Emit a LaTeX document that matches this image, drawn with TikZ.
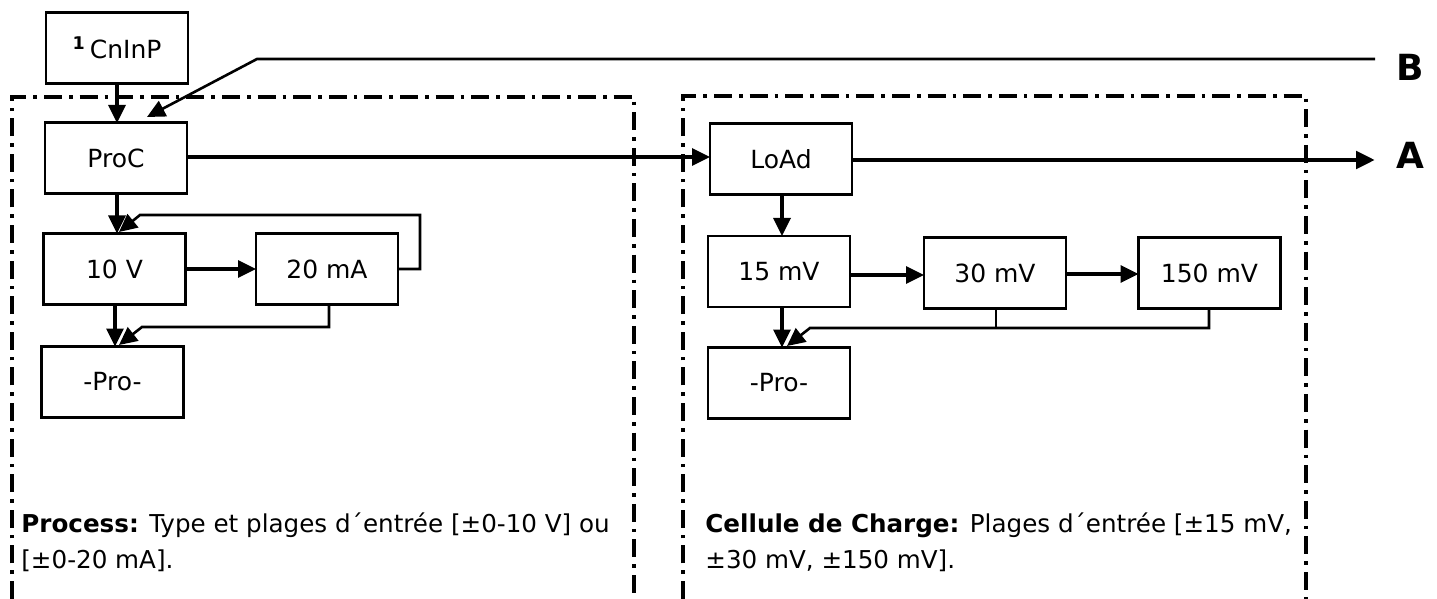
\documentclass[tikz,border=0pt]{standalone}
\usepackage{fontspec}
\setmainfont{DejaVu Sans}
\usetikzlibrary{arrows.meta,calc}
\begin{document}
\begin{tikzpicture}[x=0.5pt,y=-0.5pt,
  box/.style={draw,line width=1.3pt,minimum width=71pt,minimum height=35.5pt,inner sep=0pt,outer sep=0pt,font=\fontsize{12.5}{14}\selectfont},
  arr/.style={line width=1.7pt,-{Triangle[length=9pt,width=8.5pt]}},
  fb/.style={line width=1.3pt,-{Triangle[length=9pt,width=8.5pt]}},
  line/.style={line width=1.3pt},
  frame/.style={line width=2pt,dash pattern=on 9pt off 3.5pt on 1.8pt off 3.5pt},
  lbl/.style={font=\fontsize{18}{20}\selectfont\bfseries,inner sep=0pt},
  txt/.style={font=\fontsize{12.3}{18.3}\selectfont,align=left,inner sep=0pt,anchor=north west}]
\useasboundingbox (0,0) rectangle (1437,599);
% frames
\draw[frame] (12,599) -- (12,97) -- (634,97) -- (634,599);
\draw[frame] (683,599) -- (683,96) -- (1306,96) -- (1306,599);
% nodes
\node[box] (cninp) at (117,48) {\textsuperscript{\bfseries 1}\,CnInP};
\node[box] (proc) at (116,158) {ProC};
\node[box] (v10) at (114.5,269) {10 V};
\node[box] (ma20) at (327,269) {20 mA};
\node[box] (proL) at (112.5,382) {-Pro-};
\node[box] (load) at (781,159) {LoAd};
\node[box] (mv15) at (779,271.5) {15 mV};
\node[box] (mv30) at (995,273) {30 mV};
\node[box] (mv150) at (1209.5,273) {150 mV};
\node[box] (proR) at (779,383) {-Pro-};
\node[lbl] (A) at (1410,155) {A};
\node[lbl] (B) at (1410,67) {B};
% coordinates
\coordinate (bend) at (257,59);
\coordinate (bstart) at (1375,59);
\coordinate (btip) at (147,117);
\coordinate (aend) at (1375,160);
% connectors
\draw[arr] (cninp.south -| 117,0) -- (117,123);
\draw[line,-{Triangle[length=9pt,width=8.5pt]}] (bstart) -- (bend) -- (btip);
\draw[arr] (proc.east |- 0,157) -- (load.west |- 0,157);
\draw[line width=2.4pt,-{Triangle[length=9.5pt,width=8.5pt]}] (load.east |- aend) -- (aend);
\draw[arr] (proc.south -| 117,0) -- (v10.north -| 117,0);
\draw[arr] (v10.east |- 0,269) -- (ma20.west |- 0,269);
\draw[fb] (ma20.east |- 0,269) -- (420,269) -- (420,215) -- (140,215) -- (119,232);
\draw[arr] (v10.south -| 115,0) -- (proL.north -| 115,0);
\draw[fb] (ma20.south -| 329,0) -- (329,327) -- (142,327) -- (119,345);
\draw[arr] (load.south -| 782,0) -- (mv15.north -| 782,0);
\draw[arr] (mv15.east |- 0,275) -- (mv30.west |- 0,275);
\draw[arr] (mv30.east |- 0,274) -- (mv150.west |- 0,274);
\draw[arr] (mv15.south -| 782,0) -- (proR.north -| 782,0);
\draw[line] (mv30.south -| 996,0) -- (996,328);
\draw[fb] (mv150.south -| 1209,0) -- (1209,328) -- (810,328) -- (787,346);
% texts
\node[txt] (tp) at (21,512) {\textbf{Process:} Type et plages d´entrée [±0-10 V] ou\\{}[±0-20 mA].};
\node[txt] (tc) at (705,512) {\textbf{Cellule de Charge:} Plages d´entrée [±15 mV,\\±30 mV, ±150 mV].};
\end{tikzpicture}
\end{document}
